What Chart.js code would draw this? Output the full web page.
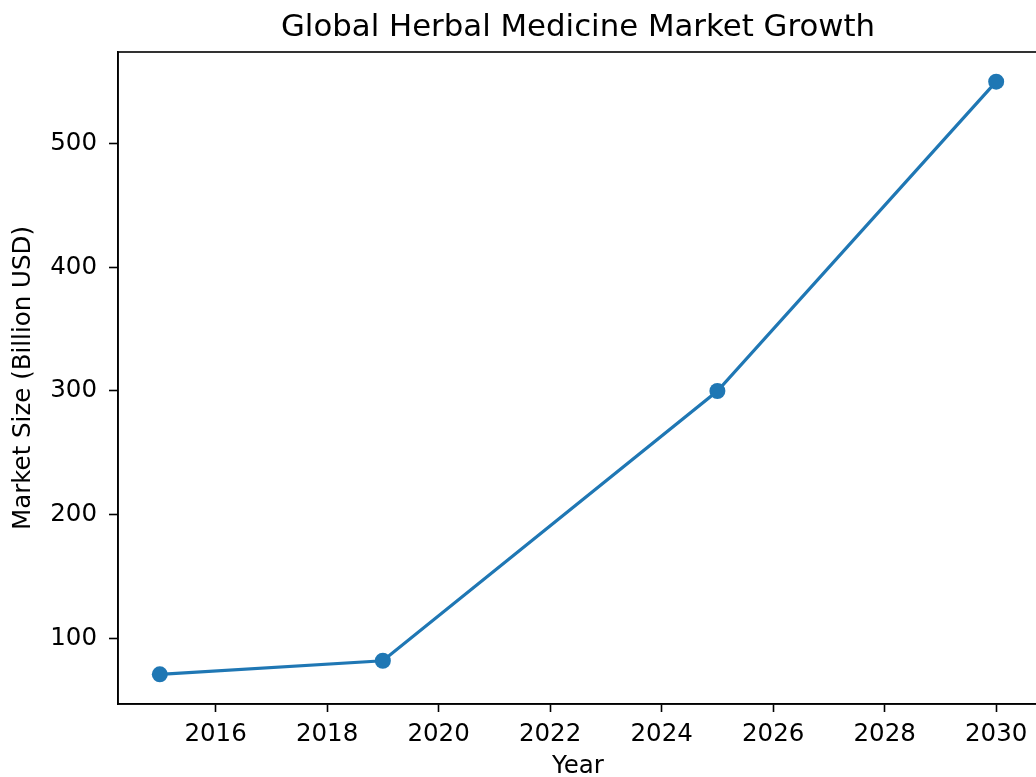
<!DOCTYPE html>
<html>
<head>
<meta charset="utf-8">
<script src="https://cdn.jsdelivr.net/npm/chart.js@4.4.1/dist/chart.umd.min.js"></script>
<style>
  html, body { margin: 0; padding: 0; background: #fff; overflow: hidden; }
  #wrap { width: 1038px; height: 777px; }
</style>
</head>
<body>
<div id="wrap"><canvas id="c" width="1038" height="777"></canvas></div>
<script>
const chartTitle = "Global Herbal Medicine Market Growth";
const xAxisLabel = "Year";
const yAxisLabel = "Market Size (Billion USD)";
const years = [2015, 2019, 2025, 2030];
const marketSize = [71, 82, 300, 550];
const xTickLabels = [2016, 2018, 2020, 2022, 2024, 2026, 2028, 2030];
const yTickLabels = [100, 200, 300, 400, 500];

const FONT = "'DejaVu Sans', sans-serif";
const LINE_BLUE = '#1f77b4';

function padRange(arr) {
  const lo = Math.min(...arr), hi = Math.max(...arr);
  const m = (hi - lo) * 0.05;
  return [lo - m, hi + m];
}
const [xMin, xMax] = padRange(years);
const [yMin, yMax] = padRange(marketSize);

const framePlugin = {
  id: 'frame',
  afterDraw(chart) {
    const { ctx, chartArea: a } = chart;
    ctx.save();
    ctx.strokeStyle = '#000';
    ctx.lineWidth = 1.6;
    ctx.strokeRect(a.left, a.top, a.right - a.left, a.bottom - a.top);
    ctx.fillStyle = '#000';
    ctx.font = "30.8px " + FONT;
    ctx.textAlign = 'center';
    ctx.textBaseline = 'middle';
    ctx.fillText(chartTitle, (a.left + a.right) / 2, 28);
    ctx.restore();
  }
};

new Chart(document.getElementById('c'), {
  type: 'line',
  data: {
    datasets: [{
      data: years.map((y, i) => ({ x: y, y: marketSize[i] })),
      borderColor: LINE_BLUE,
      backgroundColor: LINE_BLUE,
      borderWidth: 3.2,
      pointRadius: 8,
      pointHoverRadius: 8,
      pointBackgroundColor: LINE_BLUE,
      pointBorderColor: LINE_BLUE,
      pointBorderWidth: 0,
      tension: 0,
      fill: false,
      clip: false
    }]
  },
  options: {
    responsive: false,
    animation: false,
    devicePixelRatio: 1,
    layout: { autoPadding: false, padding: { top: 52, left: 0, right: 0, bottom: 0 } },
    plugins: {
      legend: { display: false },
      title: { display: false },
      tooltip: { enabled: false }
    },
    scales: {
      x: {
        type: 'linear',
        min: xMin,
        max: xMax,
        afterBuildTicks(scale) { scale.ticks = xTickLabels.map(v => ({ value: v })); },
        afterFit(scale) { scale.height = 73; scale.paddingLeft = 0; scale.paddingRight = 0; },
        grid: { display: true, drawOnChartArea: false, drawTicks: true, tickLength: 8, tickColor: '#000', tickWidth: 1.6 },
        border: { display: true, color: '#000', width: 1.6 },
        ticks: {
          color: '#000',
          font: { family: FONT, size: 24.5 },
          padding: 8,
          maxRotation: 0,
          autoSkip: false,
          callback: v => String(v)
        },
        title: {
          display: true,
          text: xAxisLabel,
          color: '#000',
          font: { family: FONT, size: 24.5 },
          padding: { top: 0, bottom: -4 }
        }
      },
      y: {
        type: 'linear',
        min: yMin,
        max: yMax,
        afterBuildTicks(scale) { scale.ticks = yTickLabels.map(v => ({ value: v })); },
        afterFit(scale) { scale.width = 118; scale.paddingTop = 0; scale.paddingBottom = 0; },
        grid: { display: true, drawOnChartArea: false, drawTicks: true, tickLength: 9, tickColor: '#000', tickWidth: 1.6 },
        border: { display: true, color: '#000', width: 1.6 },
        ticks: {
          color: '#000',
          font: { family: FONT, size: 24.5 },
          padding: 12,
          autoSkip: false,
          callback: v => String(v)
        },
        title: {
          display: true,
          text: yAxisLabel,
          color: '#000',
          font: { family: FONT, size: 24.5 },
          padding: { top: 9, bottom: 0 }
        }
      }
    }
  },
  plugins: [framePlugin]
});
</script>
</body>
</html>
